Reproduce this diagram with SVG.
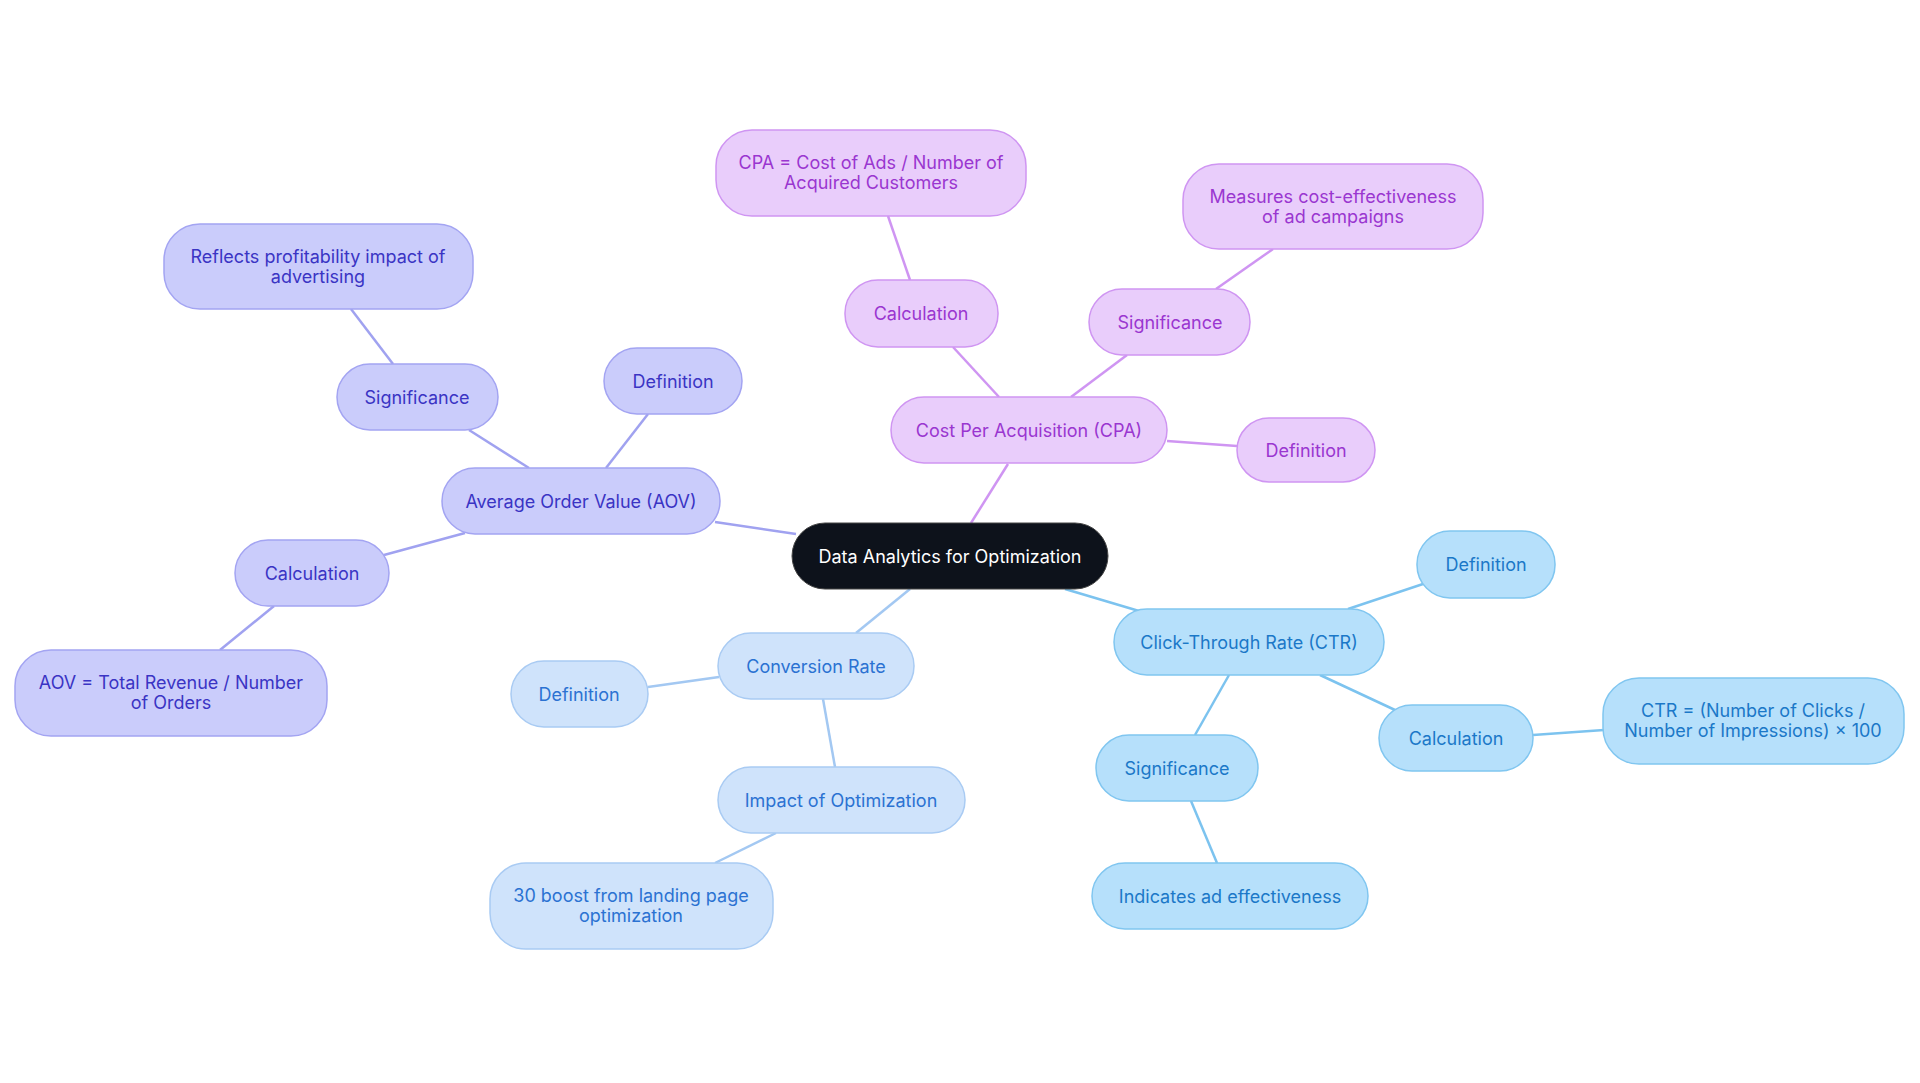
<svg xmlns="http://www.w3.org/2000/svg" width="1920" height="1083" viewBox="0 0 1920 1083">
<style>
text{font-family:Inter,"Liberation Sans",sans-serif;font-size:18px;text-anchor:middle;dominant-baseline:central}
.p rect{fill:#e9cdfb;stroke:#cf95f2;stroke-width:1.5}.p text{fill:#9a36d0}
.a rect{fill:#caccfb;stroke:#a3a4f2;stroke-width:1.5}.a text{fill:#3a34c4}
.c rect{fill:#cfe3fb;stroke:#a9cbf3;stroke-width:1.5}.c text{fill:#2b72d2}
.t rect{fill:#b6e0fb;stroke:#80c6f0;stroke-width:1.5}.t text{fill:#1b78c8}
#edges line{stroke-width:2.5;fill:none}
.ep{stroke:#cf95f2}.ea{stroke:#a0a2f0}.ec{stroke:#a3c8f2}.et{stroke:#7cc3ef}
</style>
<rect width="1920" height="1083" fill="#fff"/>
<g id="edges">
<line class="ep" x1="971" y1="523" x2="1008" y2="464"/>
<line class="ep" x1="999" y1="397" x2="953" y2="347"/>
<line class="ep" x1="910" y1="280" x2="888" y2="216"/>
<line class="ep" x1="1071" y1="397" x2="1127" y2="355"/>
<line class="ep" x1="1216" y1="289" x2="1273" y2="249"/>
<line class="ep" x1="1167" y1="441" x2="1237" y2="446"/>
<line class="ea" x1="796" y1="534" x2="715" y2="522"/>
<line class="ea" x1="606" y1="468" x2="648" y2="414"/>
<line class="ea" x1="529" y1="468" x2="469" y2="430"/>
<line class="ea" x1="393" y1="364" x2="351" y2="309"/>
<line class="ea" x1="465" y1="533" x2="384" y2="555"/>
<line class="ea" x1="274" y1="606" x2="220" y2="650"/>
<line class="ec" x1="910" y1="589" x2="856" y2="633"/>
<line class="ec" x1="719" y1="677" x2="648" y2="687"/>
<line class="ec" x1="823" y1="699" x2="835" y2="767"/>
<line class="ec" x1="776" y1="833" x2="715" y2="863"/>
<line class="et" x1="1065" y1="589" x2="1139" y2="611"/>
<line class="et" x1="1348" y1="609" x2="1423" y2="584"/>
<line class="et" x1="1320" y1="675" x2="1395" y2="710"/>
<line class="et" x1="1533" y1="735" x2="1604" y2="730"/>
<line class="et" x1="1229" y1="675" x2="1195" y2="735"/>
<line class="et" x1="1191" y1="801" x2="1217" y2="863"/>
</g>
<g id="center"><rect x="792" y="523" width="316" height="66" rx="33" fill="#0d121b" stroke="#444" stroke-width="1"/><text x="950" y="556" fill="#fff">Data Analytics for Optimization</text></g>
<g id="cpa" class="p"><rect x="891" y="397" width="276" height="66" rx="33"/><text x="1029" y="430">Cost Per Acquisition (CPA)</text></g>
<g id="cpa-calc" class="p"><rect x="845" y="280" width="153" height="67" rx="33"/><text x="921" y="313">Calculation</text></g>
<g id="cpa-formula" class="p"><rect x="716" y="130" width="310" height="86" rx="36"/><text x="871" y="162">CPA = Cost of Ads / Number of</text><text x="871" y="182">Acquired Customers</text></g>
<g id="cpa-sig" class="p"><rect x="1089" y="289" width="161" height="66" rx="33"/><text x="1170" y="322">Significance</text></g>
<g id="cpa-meas" class="p"><rect x="1183" y="164" width="300" height="85" rx="36"/><text x="1333" y="196">Measures cost-effectiveness</text><text x="1333" y="216">of ad campaigns</text></g>
<g id="cpa-def" class="p"><rect x="1237" y="418" width="138" height="64" rx="32"/><text x="1306" y="450">Definition</text></g>
<g id="aov" class="a"><rect x="442" y="468" width="278" height="66" rx="33"/><text x="581" y="501">Average Order Value (AOV)</text></g>
<g id="aov-def" class="a"><rect x="604" y="348" width="138" height="66" rx="33"/><text x="673" y="381">Definition</text></g>
<g id="aov-sig" class="a"><rect x="337" y="364" width="161" height="66" rx="33"/><text x="417" y="397">Significance</text></g>
<g id="aov-refl" class="a"><rect x="164" y="224" width="309" height="85" rx="36"/><text x="318" y="256">Reflects profitability impact of</text><text x="318" y="276">advertising</text></g>
<g id="aov-calc" class="a"><rect x="235" y="540" width="154" height="66" rx="33"/><text x="312" y="573">Calculation</text></g>
<g id="aov-formula" class="a"><rect x="15" y="650" width="312" height="86" rx="36"/><text x="171" y="682">AOV = Total Revenue / Number</text><text x="171" y="702">of Orders</text></g>
<g id="cr" class="c"><rect x="718" y="633" width="196" height="66" rx="33"/><text x="816" y="666">Conversion Rate</text></g>
<g id="cr-def" class="c"><rect x="511" y="661" width="137" height="66" rx="33"/><text x="579" y="694">Definition</text></g>
<g id="cr-imp" class="c"><rect x="718" y="767" width="247" height="66" rx="33"/><text x="841" y="800">Impact of Optimization</text></g>
<g id="cr-boost" class="c"><rect x="490" y="863" width="283" height="86" rx="36"/><text x="631" y="895">30 boost from landing page</text><text x="631" y="915">optimization</text></g>
<g id="ctr" class="t"><rect x="1114" y="609" width="270" height="66" rx="33"/><text x="1249" y="642">Click-Through Rate (CTR)</text></g>
<g id="ctr-def" class="t"><rect x="1417" y="531" width="138" height="67" rx="33"/><text x="1486" y="564">Definition</text></g>
<g id="ctr-calc" class="t"><rect x="1379" y="705" width="154" height="66" rx="33"/><text x="1456" y="738">Calculation</text></g>
<g id="ctr-formula" class="t"><rect x="1603" y="678" width="301" height="86" rx="36"/><text x="1753" y="710">CTR = (Number of Clicks /</text><text x="1753" y="730">Number of Impressions) × 100</text></g>
<g id="ctr-sig" class="t"><rect x="1096" y="735" width="162" height="66" rx="33"/><text x="1177" y="768">Significance</text></g>
<g id="ctr-ind" class="t"><rect x="1092" y="863" width="276" height="66" rx="33"/><text x="1230" y="896">Indicates ad effectiveness</text></g>
</svg>
